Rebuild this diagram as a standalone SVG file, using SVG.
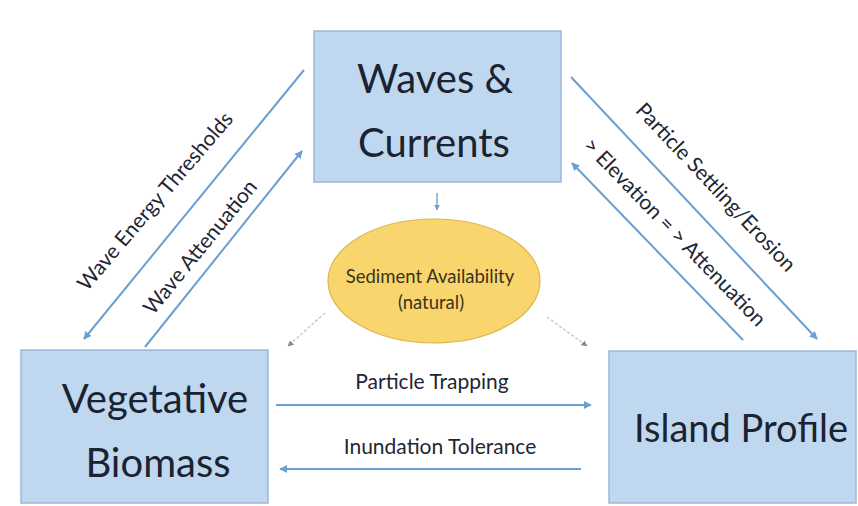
<svg xmlns="http://www.w3.org/2000/svg" width="858" height="506" viewBox="0 0 858 506">
<style>
.box{fill:#bfd8ef;stroke:#9ab8dc;stroke-width:1.5}
.ell{fill:#f9d66d;stroke:#dcb54e;stroke-width:1.2}
.title{font-family:Lato,"Open Sans",sans-serif;font-size:40px;fill:#1b2230;text-anchor:middle}
.lbl{font-family:Lato,"Open Sans",sans-serif;font-size:21px;fill:#1f2633;text-anchor:middle}
.etx{font-family:Lato,"Open Sans",sans-serif;font-size:18.5px;fill:#3a3320;text-anchor:middle}
.conn{stroke:#6a9fd3;stroke-width:2;fill:none;marker-end:url(#ah)}
.grey{stroke:#c3cad1;stroke-width:1.5;fill:none;stroke-dasharray:3 2;marker-end:url(#ahg)}
</style>
<defs>
<marker id="ah" viewBox="0 0 10 10" refX="9" refY="5" markerWidth="4" markerHeight="4" orient="auto"><path d="M0,0 L10,5 L0,10 z" fill="#6a9fd3"/></marker>
<marker id="ahg" viewBox="0 0 10 10" refX="9" refY="5" markerWidth="4" markerHeight="4" orient="auto"><path d="M0,0 L10,5 L0,10 z" fill="#7d8ca0"/></marker>
</defs>
<rect width="858" height="506" fill="#ffffff"/>
<g id="connectors">
<line class="conn" x1="304" y1="70" x2="84" y2="339"/>
<line class="conn" x1="145" y1="347" x2="302" y2="151"/>
<line class="conn" x1="571" y1="77" x2="817" y2="339"/>
<line class="conn" x1="743" y1="340" x2="572" y2="163"/>
<line class="conn" x1="276" y1="405" x2="591" y2="405"/>
<line class="conn" x1="581" y1="469" x2="280" y2="469"/>
<line class="conn" x1="437" y1="193" x2="437" y2="210" style="stroke-width:1.5;stroke:#7fa6cc"/>
<line class="grey" x1="325" y1="313" x2="288" y2="346"/>
<line class="grey" x1="547" y1="317" x2="587" y2="346"/>
<text class="lbl" transform="translate(155,201) rotate(-49.5)" dy="0.35em">Wave Energy Thresholds</text>
<text class="lbl" transform="translate(200,247) rotate(-50.8)" dy="0.35em">Wave Attenuation</text>
<text class="lbl" transform="translate(716,187) rotate(46.7)" dy="0.35em">Particle Settling/Erosion</text>
<text class="lbl" transform="translate(675,232) rotate(46)" dy="0.35em">&gt; Elevation = &gt; Attenuation</text>
<text class="lbl" x="432" y="389">Particle Trapping</text>
<text class="lbl" x="440" y="454">Inundation Tolerance</text>
</g>
<g id="waves-currents">
<rect class="box" x="314" y="31" width="247" height="151"/>
<text class="title" x="435" y="93">Waves &amp;</text>
<text class="title" x="434" y="157">Currents</text>
</g>
<g id="sediment">
<ellipse class="ell" cx="434" cy="281" rx="106" ry="62"/>
<text class="etx" x="430" y="283">Sediment Availability</text>
<text class="etx" x="431" y="309">(natural)</text>
</g>
<g id="vegetative-biomass">
<rect class="box" x="21" y="350" width="247" height="153"/>
<text class="title" x="155" y="413">Vegetative</text>
<text class="title" x="158" y="477">Biomass</text>
</g>
<g id="island-profile">
<rect class="box" x="609" y="351" width="247" height="152"/>
<text class="title" x="741" y="442" style="font-size:38px">Island Profile</text>
</g>
</svg>
